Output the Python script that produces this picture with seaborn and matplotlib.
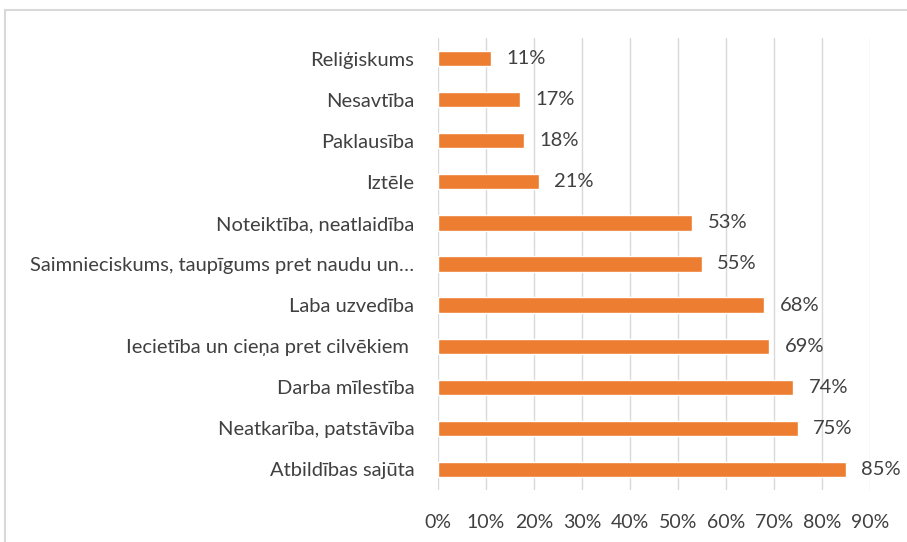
import matplotlib
matplotlib.use("Agg")
import matplotlib.pyplot as plt
import seaborn as sns
import pandas as pd
from matplotlib.patches import Rectangle
from matplotlib.ticker import FuncFormatter

categories = [
    "Reliģiskums",
    "Nesavtība",
    "Paklausība",
    "Iztēle",
    "Noteiktība, neatlaidība",
    "Saimnieciskums, taupīgums pret naudu un…",
    "Laba uzvedība",
    "Iecietība un cieņa pret cilvēkiem ",
    "Darba mīlestība",
    "Neatkarība, patstāvība",
    "Atbildības sajūta",
]
values = [0.11, 0.17, 0.18, 0.21, 0.53, 0.55, 0.68, 0.69, 0.74, 0.75, 0.85]
value_labels = ["11%", "17%", "18%", "21%", "53%", "55%", "68%", "69%", "74%", "75%", "85%"]
x_ticks = [0.0, 0.1, 0.2, 0.3, 0.4, 0.5, 0.6, 0.7, 0.8, 0.9]

df = pd.DataFrame({"cat": categories, "val": values})

sns.set_theme(style="white")
plt.rcParams["font.family"] = ["Lato", "DejaVu Sans"]

W, H = 907, 542
fig = plt.figure(figsize=(W / 100, H / 100), dpi=100)
ax = fig.add_axes([438 / W, 1 - 490 / H, (870 - 438) / W, (490 - 38) / H])

text_color = "#404040"
fs = 14.5
sns.barplot(data=df, x="val", y="cat", orient="h", color="#ED7D31",
            width=0.37, saturation=1, ax=ax, zorder=3)

ax.set_xlim(0, 0.9)
ax.set_xticks(x_ticks)
ax.xaxis.set_major_formatter(FuncFormatter(lambda v, p: f"{v*100:.0f}%"))
ax.grid(axis="x", color="#d9d9d9", linewidth=1, zorder=0)
ax.set_axisbelow(True)
for s in ax.spines.values():
    s.set_visible(False)
ax.set_xlabel("")
ax.set_ylabel("")
ax.tick_params(axis="x", length=0, pad=17, labelsize=fs - 0.5, labelcolor=text_color)
ax.tick_params(axis="y", length=0, pad=17, labelsize=fs, labelcolor=text_color)

for i, (v, lab) in enumerate(zip(values, value_labels)):
    ax.annotate(lab, xy=(v, i), xytext=(11, 0), textcoords="offset points",
                va="center", ha="left", fontsize=fs, color=text_color)

fig.patches.append(Rectangle((5 / W, -0.1), 1.2, 1 - 10 / H + 0.1,
                             transform=fig.transFigure, fill=False,
                             edgecolor="#d9d9d9", linewidth=1.5))

fig.savefig("out.png", dpi=100)
